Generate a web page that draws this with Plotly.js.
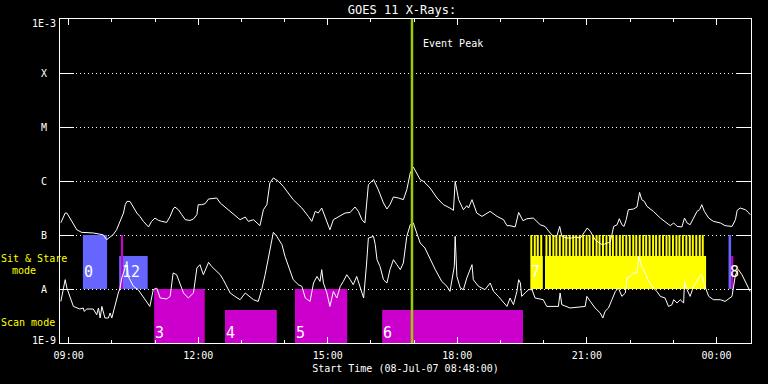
<!DOCTYPE html>
<html>
<head>
<meta charset="utf-8">
<script src="https://cdn.plot.ly/plotly-3.0.1.min.js"></script>
<style>html,body{margin:0;padding:0;background:#000;}#chart{width:768px;height:384px;}</style>
</head>
<body>
<div id="chart"></div>
<script>
// ---- DATA (times are hours after 2007-07-08 00:00 UT) ----
const longHours = [8.82,8.92,8.96,9.03,9.11,9.19,9.30,9.57,9.80,9.88,9.96,10.03,10.11,10.19,10.27,10.31,10.35,10.42,10.50,10.58,10.65,10.73,10.85,10.92,11.00,11.08,11.16,11.27,11.35,11.42,11.46,11.54,11.62,11.70,11.81,11.89,11.97,12.00,12.08,12.16,12.24,12.35,12.43,12.51,12.62,12.74,12.85,12.97,13.09,13.16,13.28,13.43,13.51,13.59,13.66,13.74,13.86,13.97,14.20,14.40,14.55,14.63,14.71,14.78,14.86,14.94,15.05,15.13,15.25,15.40,15.52,15.63,15.71,15.79,15.86,15.94,16.06,16.17,16.29,16.37,16.44,16.52,16.64,16.75,16.83,16.91,16.98,17.06,17.14,17.22,17.37,17.53,17.68,17.83,17.91,17.95,18.03,18.14,18.22,18.26,18.34,18.45,18.57,18.76,18.92,19.07,19.15,19.22,19.34,19.42,19.46,19.52,19.61,19.76,19.92,20.03,20.15,20.23,20.31,20.37,20.42,20.54,20.65,20.73,20.85,20.96,21.01,21.08,21.19,21.31,21.38,21.46,21.54,21.62,21.70,21.75,21.81,21.86,21.91,21.96,22.08,22.16,22.22,22.27,22.33,22.39,22.54,22.70,22.81,22.93,23.01,23.09,23.20,23.26,23.32,23.39,23.47,23.55,23.61,23.66,23.72,23.82,23.93,24.09,24.20,24.36,24.44,24.48,24.55,24.67,24.74,24.78];
const longFlux = [1.69e-7,2.55e-7,2.55e-7,2.06e-7,1.55e-7,1.25e-7,1.12e-7,1.09e-7,1.01e-7,8.19e-8,9.18e-8,1.01e-7,1.25e-7,1.79e-7,2.55e-7,3.64e-7,4.19e-7,4.19e-7,3.16e-7,2.55e-7,2.21e-7,1.79e-7,1.41e-7,1.79e-7,2.06e-7,1.86e-7,1.79e-7,1.71e-7,2.21e-7,3.03e-7,3.30e-7,2.94e-7,2.38e-7,1.92e-7,1.86e-7,1.98e-7,2.38e-7,3.64e-7,3.64e-7,3.80e-7,4.64e-7,4.84e-7,4.84e-7,3.91e-7,3.30e-7,2.74e-7,2.28e-7,1.92e-7,2.15e-7,1.79e-7,1.92e-7,1.49e-7,2.94e-7,3.64e-7,9.18e-7,1.14e-6,9.84e-7,7.94e-7,4.51e-7,3.16e-7,2.21e-7,1.79e-7,2.74e-7,2.55e-7,3.16e-7,2.21e-7,1.25e-7,1.92e-7,2.21e-7,2.55e-7,2.62e-7,3.30e-7,2.74e-7,1.92e-7,1.67e-7,8.54e-7,1.06e-6,6.90e-7,3.91e-7,3.03e-7,3.64e-7,5.06e-7,4.84e-7,4.51e-7,6.90e-7,1.41e-6,1.82e-6,1.41e-6,1.06e-6,9.84e-7,7.41e-7,4.84e-7,3.64e-7,3.16e-7,2.86e-7,9.84e-7,4.51e-7,2.94e-7,3.49e-7,3.16e-7,4.51e-7,2.55e-7,2.21e-7,2.74e-7,2.21e-7,1.92e-7,1.49e-7,1.49e-7,1.41e-7,2.62e-7,2.21e-7,1.84e-7,2.00e-7,2.06e-7,1.55e-7,1.44e-7,1.09e-7,9.42e-8,9.84e-8,1.44e-7,9.42e-8,8.79e-8,8.79e-8,9.18e-8,8.79e-8,1.17e-7,1.35e-7,1.17e-7,8.19e-8,6.90e-8,6.61e-8,7.11e-8,7.29e-8,1.44e-7,1.55e-7,2.00e-7,1.55e-7,1.44e-7,1.92e-7,2.94e-7,3.03e-7,3.30e-7,6.15e-7,4.51e-7,4.19e-7,3.39e-7,2.74e-7,2.06e-7,1.79e-7,1.49e-7,1.67e-7,1.44e-7,1.41e-7,2.06e-7,1.67e-7,1.55e-7,2.06e-7,2.74e-7,2.94e-7,3.64e-7,2.74e-7,2.06e-7,1.79e-7,1.67e-7,1.49e-7,1.44e-7,1.92e-7,2.86e-7,3.16e-7,2.94e-7,2.62e-7,2.38e-7];

const shortHours = [8.82,8.92,8.96,9.03,9.11,9.26,9.34,9.36,9.42,9.57,9.65,9.69,9.73,9.77,9.84,9.92,9.96,10.00,10.03,10.07,10.15,10.19,10.23,10.27,10.31,10.35,10.38,10.50,10.61,10.69,10.81,10.88,10.96,11.04,11.12,11.27,11.35,11.42,11.50,11.58,11.66,11.77,11.89,11.97,12.04,12.12,12.24,12.31,12.43,12.51,12.58,12.66,12.74,12.85,12.97,13.09,13.20,13.28,13.39,13.47,13.55,13.63,13.74,13.82,13.94,14.01,14.09,14.20,14.32,14.40,14.48,14.59,14.67,14.75,14.82,14.86,14.90,14.98,15.05,15.13,15.21,15.29,15.36,15.44,15.52,15.59,15.67,15.75,15.83,15.90,15.94,16.06,16.10,16.14,16.21,16.29,16.37,16.44,16.52,16.60,16.68,16.75,16.83,16.91,16.98,17.06,17.14,17.25,17.37,17.49,17.64,17.76,17.83,17.93,17.95,17.99,18.07,18.14,18.22,18.26,18.34,18.37,18.49,18.57,18.64,18.76,18.84,18.95,19.07,19.15,19.22,19.30,19.38,19.42,19.46,19.49,19.57,19.65,19.73,19.80,19.99,20.07,20.34,20.38,20.42,20.61,20.96,21.00,21.08,21.19,21.31,21.37,21.42,21.50,21.58,21.66,21.73,21.81,21.89,21.93,22.00,22.08,22.16,22.20,22.27,22.35,22.43,22.54,22.62,22.70,22.81,22.89,22.97,23.01,23.09,23.16,23.24,23.26,23.32,23.39,23.47,23.55,23.61,23.66,23.72,23.82,23.93,24.09,24.20,24.36,24.44,24.51,24.59,24.67,24.74,24.78];
const shortFlux = [5.89e-9,1.49e-8,1.04e-8,7.30e-9,4.76e-9,4.26e-9,4.45e-9,3.85e-9,4.26e-9,4.26e-9,3.34e-9,4.45e-9,2.90e-9,4.76e-9,2.90e-9,2.90e-9,3.59e-9,2.90e-9,3.59e-9,5.12e-9,8.43e-9,1.04e-8,1.60e-8,1.98e-8,2.62e-8,3.24e-8,1.71e-8,1.12e-8,9.71e-9,7.84e-9,5.51e-9,4.76e-9,9.71e-9,1.04e-8,6.81e-9,6.53e-9,7.30e-9,1.98e-8,1.84e-8,1.29e-8,8.43e-9,6.81e-9,8.43e-9,2.45e-8,2.82e-8,1.84e-8,3.11e-8,2.62e-8,2.12e-8,1.84e-8,1.49e-8,1.12e-8,8.43e-9,7.30e-9,6.34e-9,8.43e-9,7.30e-9,6.34e-9,5.89e-9,9.71e-9,1.84e-8,4.02e-8,1.12e-7,9.42e-8,6.61e-8,4.02e-8,2.62e-8,1.49e-8,1.20e-8,1.12e-8,6.81e-9,5.89e-9,1.29e-8,1.71e-8,1.38e-8,2.28e-8,1.29e-8,8.43e-9,4.76e-9,9.03e-9,6.81e-9,1.12e-8,1.38e-8,1.84e-8,1.49e-8,1.20e-8,1.71e-8,1.04e-8,6.81e-9,3.03e-8,8.79e-8,9.42e-8,6.61e-8,3.49e-8,2.62e-8,1.49e-8,1.29e-8,2.28e-8,3.49e-8,2.82e-8,2.28e-8,3.03e-8,9.42e-8,1.55e-7,1.67e-7,1.09e-7,7.11e-8,5.74e-8,3.49e-8,2.28e-8,1.38e-8,1.12e-8,9.03e-9,2.62e-8,9.42e-8,1.71e-8,1.04e-8,9.71e-9,1.60e-8,1.98e-8,2.82e-8,1.49e-8,1.12e-8,1.04e-8,9.71e-9,1.29e-8,9.03e-9,7.30e-9,5.51e-9,4.76e-9,6.81e-9,5.12e-9,9.03e-9,1.49e-8,1.29e-8,7.30e-9,8.43e-9,9.71e-9,9.71e-9,6.81e-9,6.34e-9,4.76e-9,4.76e-9,8.43e-9,5.12e-9,4.45e-9,4.76e-9,7.30e-9,5.89e-9,4.45e-9,3.59e-9,2.90e-9,3.85e-9,4.45e-9,6.34e-9,9.03e-9,1.04e-8,7.30e-9,8.43e-9,1.60e-8,1.71e-8,1.98e-8,1.98e-8,4.02e-8,2.62e-8,1.98e-8,1.38e-8,1.04e-8,9.03e-9,7.30e-9,6.81e-9,4.76e-9,5.12e-9,6.34e-9,5.51e-9,6.34e-9,5.51e-9,1.38e-8,9.71e-9,7.30e-9,1.12e-8,1.38e-8,1.71e-8,1.84e-8,1.20e-8,7.30e-9,6.34e-9,6.34e-9,5.89e-9,7.30e-9,1.84e-8,2.28e-8,1.84e-8,1.38e-8,1.04e-8,9.03e-9];

// Observation blocks (hours, flux-level bottom/top, kind)
const obsStart = [9.33, 10.17, 10.21, 10.98, 12.62, 14.24, 16.26, 19.69, 20.03, 24.28, 24.34];
const obsEnd   = [9.89, 10.83, 10.26, 12.15, 13.82, 15.45, 19.52, 19.98, 23.76, 24.34, 24.39];
const obsBottom= [1e-8, 1e-8, 1e-8, 1e-9, 1e-9, 1e-9, 1e-9, 1e-8, 1e-8, 1e-8, 1e-8];
const obsTop   = [1e-7, 4.08e-8, 1e-7, 1e-8, 4.08e-9, 1e-8, 4.08e-9, 4.08e-8, 4.08e-8, 1e-7, 4.08e-8];
const obsKind  = ['blue','blue','magenta','magenta','magenta','magenta','magenta','yellow','yellow','blue','magenta'];

// Sit & stare short pointings (comb), start hours
const combStart = [19.69,19.77,19.84,19.92,20.04,20.12,20.20,20.27,20.35,20.43,20.50,20.58,20.66,20.73,20.81,20.89,20.97,21.04,21.12,21.20,21.27,21.35,21.43,21.51,21.58,21.66,21.74,21.81,21.89,21.97,22.05,22.12,22.20,22.28,22.35,22.43,22.51,22.58,22.66,22.74,22.82,22.89,22.97,23.05,23.12,23.20,23.28,23.36,23.43,23.51,23.59,23.66];
const combDuration = 0.046;
const combBottom = 4.08e-8, combTop = 1e-7;

// Observation number labels: hour, log10 level
const labelText = ['0','1','2','3','4','5','6','7','8'];
const labelHour = [9.33, 10.21, 10.17, 10.98, 12.62, 14.24, 16.26, 19.69, 24.28];
const labelLevel= [-7.685,-7.685,-7.685,-8.815,-8.815,-8.815,-8.815,-7.685,-7.685];

const eventPeakHour = 16.95;
const yTickVals = [1e-9,1e-8,1e-7,1e-6,1e-5,1e-4,1e-3];
const yTickText = ['1E-9','A','B','C','M','X','1E-3'];
const xTickHours = [9,12,15,18,21,24];
const xTickText = ['09:00','12:00','15:00','18:00','21:00','00:00'];

// ---- helpers ----
function hToDate(h){
  const d = new Date(Date.UTC(2007,6,8) + Math.round(h*3600000));
  return d.toISOString().slice(0,19).replace('T',' ');
}
const FONT = 'DejaVu Sans Mono, monospace';
const colors = {blue:'rgb(102,102,255)', magenta:'rgb(204,0,204)', yellow:'rgb(255,255,0)'};

const traces = [];
traces.push({
  type:'bar',
  x: obsStart.map(hToDate),
  width: obsStart.map((s,i)=>(obsEnd[i]-s)*3600000),
  offset: 0,
  base: obsBottom,
  y: obsTop.map((t,i)=>t-obsBottom[i]),
  marker:{color: obsKind.map(k=>colors[k]), line:{width:0}},
  hoverinfo:'skip', showlegend:false
});
traces.push({
  type:'bar',
  x: combStart.map(hToDate),
  width: combStart.map(()=>combDuration*3600000),
  offset: 0,
  base: combStart.map(()=>combBottom),
  y: combStart.map(()=>combTop-combBottom),
  marker:{color: colors.yellow, line:{width:0}},
  hoverinfo:'skip', showlegend:false
});
traces.push({type:'scatter', mode:'lines', x: longHours.map(hToDate), y: longFlux,
  line:{color:'white', width:1}, hoverinfo:'skip', showlegend:false});
traces.push({type:'scatter', mode:'lines', x: shortHours.map(hToDate), y: shortFlux,
  line:{color:'white', width:1}, hoverinfo:'skip', showlegend:false});
traces.push({type:'scatter', mode:'lines', x:[hToDate(eventPeakHour),hToDate(eventPeakHour)], y:[1e-9,1e-3],
  line:{color:'rgb(154,205,0)', width:2.5}, hoverinfo:'skip', showlegend:false});

const annotations = [];
yTickVals.forEach((v,i)=>{
  annotations.push({xref:'paper', yref:'y', x:-0.0232, y:Math.log10(v), text:yTickText[i],
    showarrow:false, xanchor:'center', yanchor:'middle',
    yshift: i===0?3:(i===yTickVals.length-1?-4:0),
    font:{family:FONT, size:10, color:'white'}});
});
labelText.forEach((t,i)=>{
  annotations.push({xref:'x', yref:'y', x:hToDate(labelHour[i]), y:labelLevel[i], text:t,
    showarrow:false, xanchor:'left', yanchor:'middle', xshift: t==='2'?10:-1,
    font:{family:FONT, size:15, color:'white'}});
});
annotations.push({xref:'x', yref:'paper', x:hToDate(eventPeakHour), y:0.923, text:'Event Peak',
  showarrow:false, xanchor:'left', yanchor:'middle', xshift:9, font:{family:FONT, size:10, color:'white'}});
annotations.push({xref:'paper', yref:'paper', x:-0.0374, y:0.262, text:'Sit & Stare',
  showarrow:false, xanchor:'center', yanchor:'middle', font:{family:FONT, size:10, color:'rgb(255,255,0)'}});
annotations.push({xref:'paper', yref:'paper', x:-0.0514, y:0.223, text:'mode',
  showarrow:false, xanchor:'center', yanchor:'middle', font:{family:FONT, size:10, color:'rgb(255,255,0)'}});
annotations.push({xref:'paper', yref:'paper', x:-0.0458, y:0.062, text:'Scan mode',
  showarrow:false, xanchor:'center', yanchor:'middle', font:{family:FONT, size:10, color:'rgb(255,255,0)'}});

const layout = {
  width:768, height:384,
  paper_bgcolor:'black', plot_bgcolor:'black',
  margin:{l:60, r:17, t:19, b:41},
  barmode:'overlay',
  showlegend:false,
  title:{text:'GOES 11 X-Rays:', font:{family:FONT, size:12, color:'white'},
    xref:'paper', x:0.495, xanchor:'center', yref:'container', y:0.975, yanchor:'middle'},
  xaxis:{
    type:'date',
    range:[hToDate(8.8), hToDate(24.8)],
    showline:true, linecolor:'white', linewidth:1, mirror:'ticks',
    ticks:'inside', ticklen:6, tickcolor:'white', tickwidth:1,
    tickvals: xTickHours.map(hToDate), ticktext: xTickText,
    tickfont:{family:FONT, size:10, color:'white'},
    ticklabelstandoff:3,
    minor:{ticks:'inside', ticklen:3, tickcolor:'white', dtick:3600000, tick0:hToDate(9), showgrid:false},
    showgrid:false, zeroline:false,
    title:{text:'Start Time (08-Jul-07 08:48:00)', font:{family:FONT, size:10, color:'white'}, standoff:4}
  },
  yaxis:{
    type:'log', range:[-9,-3],
    showline:true, linecolor:'white', linewidth:1, mirror:'ticks',
    ticks:'inside', ticklen:14, tickcolor:'white', tickwidth:1,
    tickvals: yTickVals, showticklabels:false,
    showgrid:true, gridcolor:'white', gridwidth:1, griddash:'1px,3px',
    zeroline:false
  },
  annotations: annotations
};

Plotly.newPlot('chart', traces, layout, {displayModeBar:false, staticPlot:true});
</script>
</body>
</html>
